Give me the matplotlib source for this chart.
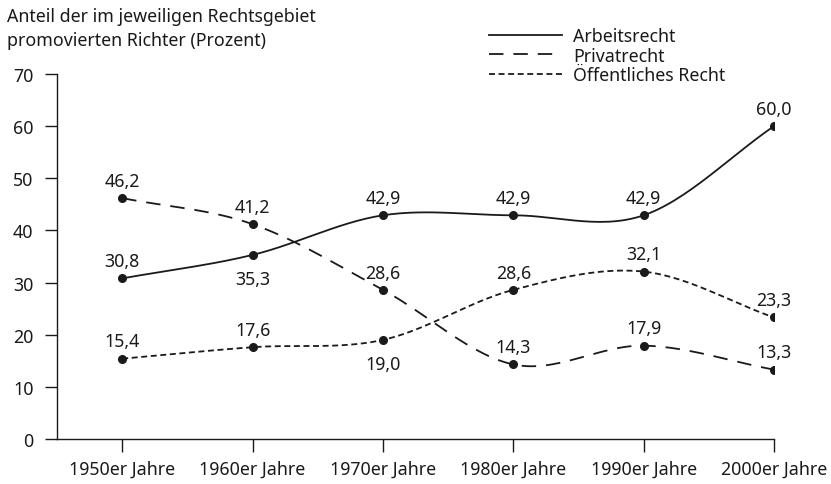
import numpy as np
import matplotlib
matplotlib.use("Agg")
import matplotlib.pyplot as plt
from matplotlib.lines import Line2D

plt.rcParams['font.family'] = ['Noto Sans', 'DejaVu Sans']

# Daten
jahrzehnte = ["1950er Jahre", "1960er Jahre", "1970er Jahre", "1980er Jahre", "1990er Jahre", "2000er Jahre"]
arbeitsrecht = [30.8, 35.3, 42.9, 42.9, 42.9, 60.0]
privatrecht = [46.2, 41.2, 28.6, 14.3, 17.9, 13.3]
oeffentliches = [15.4, 17.6, 19.0, 28.6, 32.1, 23.3]
# Beschriftung unterhalb des Punktes?
arbeit_unten = [False, True, False, False, False, False]
privat_unten = [False, False, False, False, False, False]
oeff_unten = [False, False, True, False, False, False]


def catmull_rom(y, n=30):
    # glatte Kurve durch die Punkte (nur fuer die Darstellung)
    y = np.asarray(y, dtype=float)
    x = np.arange(len(y), dtype=float)
    p = np.concatenate([[2 * y[0] - y[1]], y, [2 * y[-1] - y[-2]]])
    xs, ys = [], []
    for i in range(len(y) - 1):
        p0, p1, p2, p3 = p[i], p[i + 1], p[i + 2], p[i + 3]
        t = np.linspace(0, 1, n, endpoint=(i == len(y) - 2))
        yy = 0.5 * ((2 * p1) + (-p0 + p2) * t + (2 * p0 - 5 * p1 + 4 * p2 - p3) * t ** 2
                    + (-p0 + 3 * p1 - 3 * p2 + p3) * t ** 3)
        xs.append(x[i] + t)
        ys.append(yy)
    return np.concatenate(xs), np.concatenate(ys)


fs = 12.8
fig = plt.figure(figsize=(8.31, 4.85), dpi=100)
ax = fig.add_axes([0.0686, 0.0928, 0.8628, 0.7526])

farbe = "#1a1a1a"
stile = [
    (arbeitsrecht, "-", arbeit_unten, "Arbeitsrecht"),
    (privatrecht, (0, (8, 5.5)), privat_unten, "Privatrecht"),
    (oeffentliches, (0, (3.3, 2)), oeff_unten, "Öffentliches Recht"),
]

x = np.arange(len(jahrzehnte))
for werte, ls, unten, name in stile:
    xs, ys = catmull_rom(werte)
    ax.plot(xs, ys, color=farbe, lw=1.3, linestyle=ls)
    ax.plot(x, werte, "o", color=farbe, ms=5.5)
    for xi, wi, u in zip(x, werte, unten):
        txt = f"{wi:.1f}".replace(".", ",")
        if u:
            ax.annotate(txt, (xi, wi), xytext=(0, -11), textcoords="offset points",
                        ha="center", va="top", fontsize=fs, color=farbe)
        else:
            ax.annotate(txt, (xi, wi), xytext=(0, 6), textcoords="offset points",
                        ha="center", va="bottom", fontsize=fs, color=farbe)

ax.set_xlim(-0.5, 5)
ax.set_ylim(0, 70)
ax.set_xticks(x)
ax.set_xticklabels(jahrzehnte, fontsize=fs)
ax.set_yticks(range(0, 71, 10))
ax.tick_params(axis="both", colors=farbe, labelcolor=farbe, width=1, length=9, labelsize=fs)
ax.tick_params(axis="y", pad=8)
ax.tick_params(axis="x", pad=6)
for s in ["top", "right"]:
    ax.spines[s].set_visible(False)
for s in ["left", "bottom"]:
    ax.spines[s].set_color(farbe)
    ax.spines[s].set_linewidth(1)

fig.text(0.008, 0.983, "Anteil der im jeweiligen Rechtsgebiet\npromovierten Richter (Prozent)",
         ha="left", va="top", fontsize=fs, color=farbe, linespacing=1.4)

handles = [Line2D([], [], color=farbe, lw=1.3, linestyle=ls) for _, ls, _, _ in stile]
fig.legend(handles, [s[3] for s in stile], loc="upper left", bbox_to_anchor=(0.578, 0.96),
           frameon=False, fontsize=fs, handlelength=4.1, handletextpad=0.6,
           labelspacing=0.08, borderpad=0, labelcolor=farbe)

fig.savefig("out.png", dpi=100)
